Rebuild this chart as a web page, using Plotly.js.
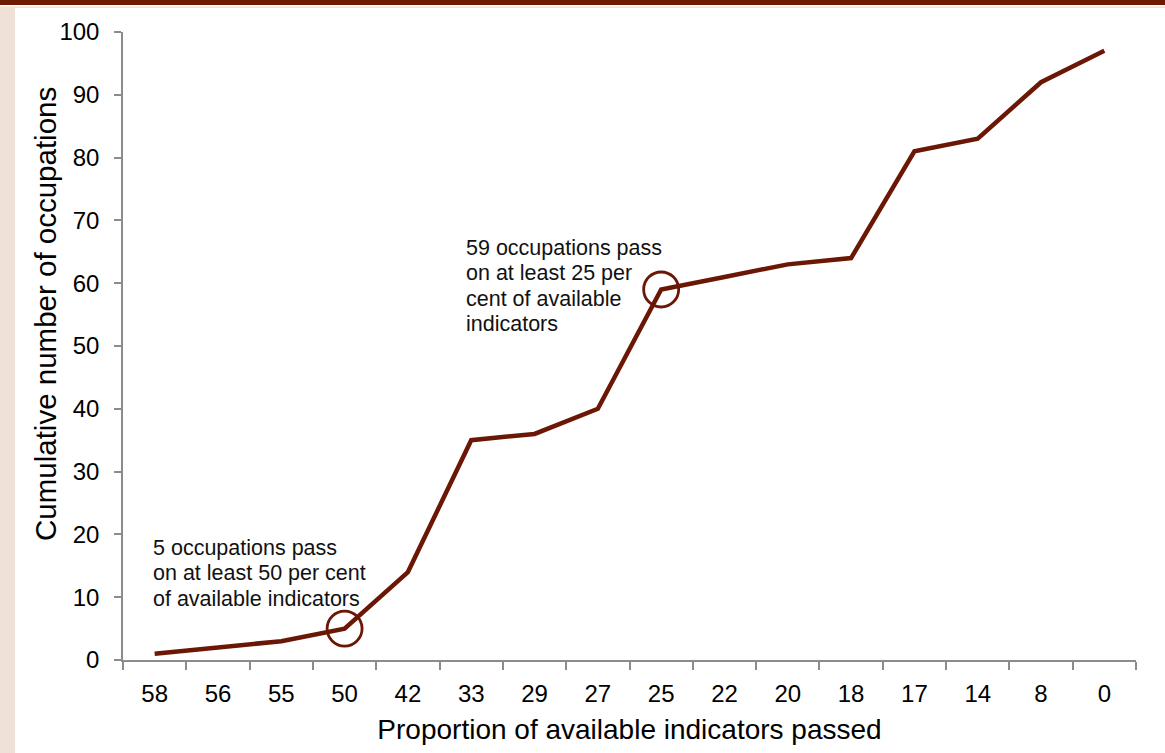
<!DOCTYPE html>
<html>
<head>
<meta charset="utf-8">
<script src="https://cdn.plot.ly/plotly-3.0.1.min.js"></script>
<style>
  html, body { margin: 0; padding: 0; background: #ffffff; }
  #chart { width: 1165px; height: 753px; }
</style>
</head>
<body>
<div id="chart"></div>
<script>
// Proportion of available indicators passed (category labels, descending)
const proportionLabels = ['58', '56', '55', '50', '42', '33', '29', '27', '25', '22', '20', '18', '17', '14', '8', '0'];
// Cumulative number of occupations at each threshold
const cumulativeOccupations = [1, 2, 3, 5, 14, 35, 36, 40, 59, 61, 63, 64, 81, 83, 92, 97];
// Highlighted thresholds
const highlightLabels = ['50', '25'];
const highlightValues = [5, 59];
const highlightNotes = [
  ['5 occupations pass', 'on at least 50 per cent', 'of available indicators'],
  ['59 occupations pass', 'on at least 25 per', 'cent of available', 'indicators']
];
const xTitle = 'Proportion of available indicators passed';
const yTitle = 'Cumulative number of occupations';

const lineColor = '#6B1706';
const axisColor = '#8c8c8c';
const fontFamily = 'Liberation Sans, Arial, sans-serif';

// plot area in pixels
const plotLeft = 123, plotWidth = 1013, plotTop = 32, plotHeight = 628;
const px2x = (px) => (px - plotLeft) / plotWidth;
const px2y = (py) => (plotTop + plotHeight - py) / plotHeight;

const traces = [
  {
    type: 'scatter',
    mode: 'lines',
    x: proportionLabels,
    y: cumulativeOccupations,
    line: { color: lineColor, width: 4.5 },
    hoverinfo: 'x+y'
  },
  {
    type: 'scatter',
    mode: 'markers',
    x: highlightLabels,
    y: highlightValues,
    marker: { symbol: 'circle-open', size: 35, color: lineColor, line: { width: 2.8, color: lineColor } },
    hoverinfo: 'skip'
  }
];

// note text blocks: left edge and top of first line (pixels), 25 px per line
const noteAnchors = [
  { left: 152, top: 535 },
  { left: 465, top: 235 }
];
const annotations = [];
highlightNotes.forEach((lines, n) => {
  lines.forEach((line, i) => {
    annotations.push({
      xref: 'paper', yref: 'paper',
      x: px2x(noteAnchors[n].left), y: px2y(noteAnchors[n].top + i * 25.3),
      xanchor: 'left', yanchor: 'top', align: 'left',
      text: line, showarrow: false, borderpad: 0,
      font: { size: 21.5, family: fontFamily, color: '#111111' }
    });
  });
});

// vertical axis title, centred a little above the middle of the plot
annotations.push({
  xref: 'paper', yref: 'paper',
  x: px2x(45), y: px2y(314),
  xanchor: 'center', yanchor: 'middle',
  text: yTitle, textangle: -90, showarrow: false,
  font: { size: 29.5, family: fontFamily, color: '#000000' }
});

const layout = {
  width: 1165,
  height: 753,
  margin: { l: plotLeft, r: 1165 - plotLeft - plotWidth, t: plotTop, b: 753 - plotTop - plotHeight },
  paper_bgcolor: '#ffffff',
  plot_bgcolor: '#ffffff',
  showlegend: false,
  font: { family: fontFamily, color: '#000000', size: 18 },
  xaxis: {
    type: 'category',
    categoryorder: 'array',
    categoryarray: proportionLabels,
    range: [-0.5, 15.5],
    showgrid: false,
    zeroline: false,
    showline: true,
    linecolor: axisColor,
    linewidth: 1.5,
    ticks: 'outside',
    tickson: 'boundaries',
    ticklen: 8,
    tickcolor: axisColor,
    tickwidth: 1.5,
    ticklabelstandoff: 11,
    tickfont: { size: 24, family: fontFamily, color: '#000000' },
    title: { text: xTitle, font: { size: 28, family: fontFamily, color: '#000000' }, standoff: 14 },
    fixedrange: true
  },
  yaxis: {
    range: [0, 100],
    dtick: 10,
    showgrid: false,
    zeroline: false,
    showline: true,
    linecolor: axisColor,
    linewidth: 1.5,
    ticks: 'outside',
    ticklen: 7,
    tickcolor: axisColor,
    tickwidth: 1.5,
    ticklabelstandoff: 10,
    tickfont: { size: 24, family: fontFamily, color: '#000000' },
    fixedrange: true
  },
  annotations: annotations,
  shapes: [
    // dark banner along the top edge
    { type: 'rect', xref: 'paper', yref: 'paper', layer: 'below',
      x0: px2x(0), x1: px2x(1165), y0: px2y(5), y1: px2y(-2),
      fillcolor: '#6E1A00', line: { width: 0 } },
    // light rule beneath the banner
    { type: 'rect', xref: 'paper', yref: 'paper', layer: 'below',
      x0: px2x(0), x1: px2x(1165), y0: px2y(8), y1: px2y(6.5),
      fillcolor: '#EFE1D8', line: { width: 0 } },
    // light side strip on the left edge
    { type: 'rect', xref: 'paper', yref: 'paper', layer: 'below',
      x0: px2x(0), x1: px2x(15), y0: px2y(760), y1: px2y(6.5),
      fillcolor: '#EFE1D8', line: { width: 0 } }
  ]
};

Plotly.newPlot('chart', traces, layout, { displayModeBar: false });
</script>
</body>
</html>
